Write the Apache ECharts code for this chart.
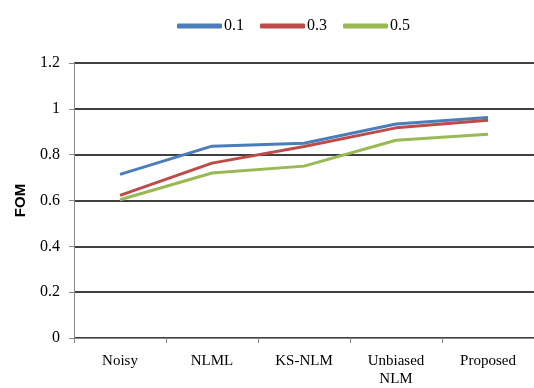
<!DOCTYPE html>
<html>
<head>
<meta charset="utf-8">
<script src="https://cdn.jsdelivr.net/npm/echarts@6/dist/echarts.min.js"></script>
<style>
  html, body { margin: 0; padding: 0; background: #fff; }
  #chart { width: 534px; height: 388px; }
</style>
</head>
<body>
<div id="chart"></div>
<script>
const methods = ['Noisy', 'NLML', 'KS-NLM', 'Unbiased\nNLM', 'Proposed']
const yTicks = [0, 0.2, 0.4, 0.6, 0.8, 1, 1.2]
const fom01 = [0.714, 0.837, 0.85, 0.934, 0.962]
const fom03 = [0.622, 0.763, 0.836, 0.917, 0.95]
const fom05 = [0.603, 0.72, 0.75, 0.863, 0.889]

const serif = '"Liberation Serif", "DejaVu Serif", serif'
const chart = echarts.init(document.getElementById('chart'))

const mk = (name, data, color) => ({
  name,
  type: 'line',
  data,
  symbol: 'none',
  lineStyle: { color, width: 3 },
  itemStyle: { color },
})

chart.setOption({
  animation: false,
  legend: {
    top: 13,
    left: 172,
    icon: 'roundRect',
    itemWidth: 45,
    itemHeight: 5,
    itemGap: 16,
    textStyle: { fontFamily: serif, fontSize: 16, color: '#000', padding: [0, 0, 0, -3] },
    data: ['0.1', '0.3', '0.5'],
  },
  grid: { left: 74, right: 0, top: 63, bottom: 49 },
  xAxis: {
    type: 'category',
    data: methods,
    boundaryGap: true,
    axisLine: { lineStyle: { color: '#888', width: 1 } },
    axisTick: { show: true, length: 5, lineStyle: { color: '#888' } },
    axisLabel: { fontFamily: serif, fontSize: 15, color: '#000', margin: 14, lineHeight: 18 },
  },
  yAxis: {
    type: 'value',
    min: 0,
    max: 1.2,
    interval: 0.2,
    name: 'FOM',
    nameLocation: 'middle',
    nameGap: 46,
    nameTextStyle: { fontFamily: '"Liberation Sans", Arial, sans-serif', fontWeight: 'bold', fontSize: 15, color: '#000' },
    axisLine: { show: true, lineStyle: { color: '#888', width: 1 } },
    axisTick: { show: true, length: 5, lineStyle: { color: '#888' } },
    axisLabel: {
      fontFamily: serif, fontSize: 16, color: '#000', margin: 14,
      formatter: v => yTicks.includes(+v.toFixed(1)) ? String(+v.toFixed(1)) : '',
    },
    splitLine: { show: true, lineStyle: { color: '#000', width: 1.5 } },
  },
  series: [
    mk('0.1', fom01, '#4a7ebb'),
    mk('0.3', fom03, '#be4b48'),
    mk('0.5', fom05, '#98b954'),
  ],
})
</script>
</body>
</html>
